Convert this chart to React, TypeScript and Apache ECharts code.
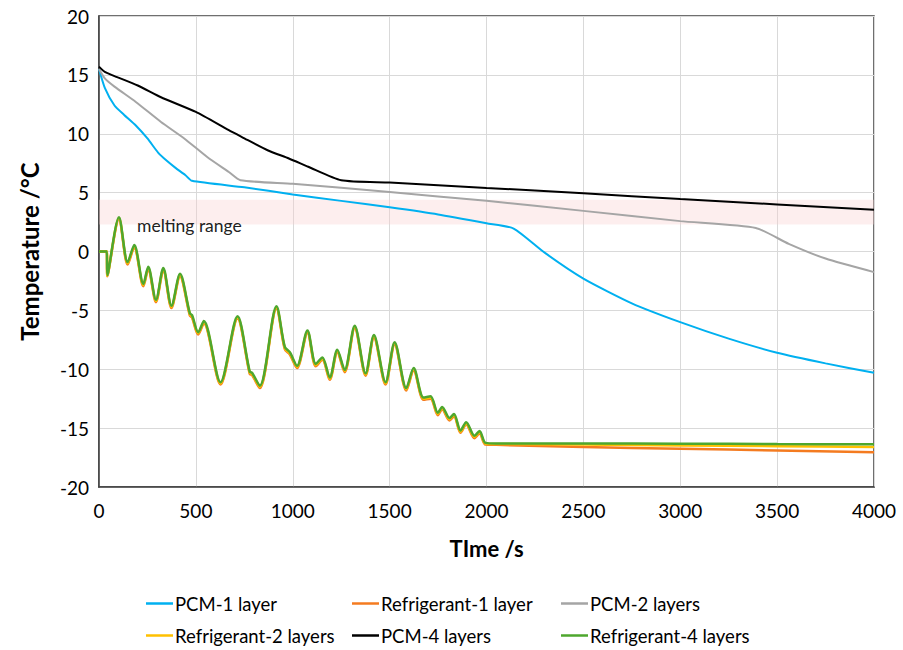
import React, { useEffect, useRef } from "react";
import * as echarts from "echarts";

// PCM-1 layer
const pcm1Time = [0, 30, 80, 130, 190, 250, 305, 350, 395, 445, 480, 750, 1000, 1250, 1500, 1750, 2000, 2140, 2300, 2500, 2750, 3000, 3250, 3500, 3750, 4000];
const pcm1Temp = [15.5, 13.9, 12.4, 11.6, 10.7, 9.6, 8.4, 7.7, 7.1, 6.5, 6.0, 5.45, 4.85, 4.3, 3.75, 3.15, 2.4, 1.95, -0.1, -2.3, -4.4, -6.0, -7.4, -8.6, -9.5, -10.3];

// PCM-2 layers
const pcm2Time = [0, 30, 80, 190, 320, 440, 560, 670, 730, 1000, 1500, 2000, 2500, 3000, 3390, 3560, 3750, 4000];
const pcm2Temp = [15.5, 14.7, 14.0, 12.7, 11.0, 9.6, 8.0, 6.75, 6.05, 5.75, 5.05, 4.3, 3.45, 2.58, 2.0, 0.65, -0.6, -1.75];

// PCM-4 layers
const pcm4Time = [0, 30, 80, 200, 320, 500, 670, 740, 870, 980, 1080, 1250, 1500, 2000, 2500, 3000, 3500, 4000];
const pcm4Temp = [15.7, 15.25, 14.9, 14.1, 13.1, 11.85, 10.3, 9.7, 8.6, 7.9, 7.2, 6.05, 5.85, 5.4, 4.95, 4.45, 4.0, 3.55];

// Refrigerant series (shared sampling times)
const refTime = [0, 40, 43, 103, 148, 182, 229, 254, 294, 332, 374, 418, 469, 480, 512, 541, 627, 715, 778, 790, 830, 916, 959, 985, 1022, 1076, 1119, 1153, 1191, 1230, 1268, 1320, 1376, 1419, 1479, 1526, 1586, 1624, 1675, 1711, 1749, 1771, 1809, 1832, 1866, 1895, 1938, 1964, 1995, 2050, 2500, 3000, 3500, 4000];
const ref1Temp = [0, 0, -2.1, 2.75, -1.1, 0.35, -2.95, -1.5, -4.3, -1.6, -4.8, -2.1, -5.45, -5.6, -7.05, -6.1, -11.3, -5.7, -10.4, -10.5, -11.6, -4.85, -8.3, -8.75, -9.9, -6.9, -9.75, -9.2, -10.9, -8.55, -10.25, -6.5, -10.55, -7.3, -11.3, -7.9, -11.8, -10.1, -12.6, -12.5, -13.9, -13.4, -14.35, -14.0, -15.4, -14.7, -15.85, -15.45, -16.4, -16.42, -16.6, -16.75, -16.9, -17.05];
const ref2Temp = [0, 0, -2.05, 2.85, -1.0, 0.45, -2.85, -1.4, -4.2, -1.5, -4.7, -2.0, -5.35, -5.5, -6.95, -6.0, -11.2, -5.6, -10.3, -10.4, -11.5, -4.75, -8.2, -8.65, -9.8, -6.8, -9.65, -9.1, -10.8, -8.45, -10.15, -6.4, -10.45, -7.2, -11.2, -7.8, -11.7, -10.0, -12.5, -12.4, -13.8, -13.3, -14.25, -13.9, -15.3, -14.6, -15.75, -15.35, -16.33, -16.35, -16.4, -16.47, -16.53, -16.6];
const ref4Temp = [0, 0, -2.0, 2.9, -0.9, 0.55, -2.75, -1.3, -4.1, -1.4, -4.6, -1.9, -5.25, -5.4, -6.85, -5.9, -11.1, -5.5, -10.2, -10.3, -11.4, -4.65, -8.1, -8.55, -9.7, -6.7, -9.55, -9.0, -10.7, -8.35, -10.05, -6.3, -10.35, -7.1, -11.1, -7.7, -11.6, -9.9, -12.4, -12.3, -13.7, -13.2, -14.15, -13.8, -15.2, -14.5, -15.65, -15.25, -16.25, -16.3, -16.3, -16.32, -16.35, -16.37];

// Melting range band
const meltingRange = [2.3, 4.4];

const xTicks = { min: 0, max: 4000, interval: 500 };
const yTicks = { min: -20, max: 20, interval: 5 };

// Legend layout: [series name, column left, row top]
const legendItems: [string, number, number][] = [
  ["PCM-1 layer", 146, 594],
  ["Refrigerant-1 layer", 352, 594],
  ["PCM-2 layers", 561, 594],
  ["Refrigerant-2 layers", 146, 626],
  ["PCM-4 layers", 352, 626],
  ["Refrigerant-4 layers", 561, 626],
];

const pair = (t: number[], v: number[]) => t.map((x, i) => [x, v[i]]);

const FONT = "Lato, 'Open Sans', sans-serif";

export default function App() {
  const ref = useRef<HTMLDivElement>(null);
  useEffect(() => {
    if (!ref.current) return;
    const chart = echarts.init(ref.current, undefined, { renderer: "svg" });
    const lineSeries = (name: string, data: number[][], color: string, width: number, smooth: number, extra: any = {}) => ({
      name,
      type: "line",
      data,
      showSymbol: false,
      symbol: "none",
      smooth,
      lineStyle: { color, width },
      itemStyle: { color },
      ...extra,
    });
    chart.setOption({
      animation: false,
      textStyle: { fontFamily: FONT },
      grid: {
        left: 99,
        right: 29,
        top: 16,
        bottom: 163,
        show: true,
        borderColor: "#404040",
        borderWidth: 1.5,
      },
      xAxis: {
        type: "value",
        min: xTicks.min,
        max: xTicks.max,
        interval: xTicks.interval,
        name: "TIme /s",
        nameLocation: "middle",
        nameGap: 50,
        nameTextStyle: { fontSize: 22, fontWeight: "bold", color: "#000", fontFamily: FONT },
        axisLine: { show: true, onZero: false, lineStyle: { color: "#404040", width: 1.5 } },
        axisTick: { show: false },
        axisLabel: { fontSize: 19, color: "#000", margin: 14, fontFamily: FONT, formatter: (v: number) => String(v) },
        splitLine: { show: true, lineStyle: { color: "#d9d9d9", width: 1 } },
      },
      yAxis: {
        type: "value",
        min: yTicks.min,
        max: yTicks.max,
        interval: yTicks.interval,
        name: "Temperature /°C",
        nameLocation: "middle",
        nameGap: 58,
        nameTextStyle: { fontSize: 24, fontWeight: "bold", color: "#000", fontFamily: FONT },
        axisLine: { show: true, onZero: false, lineStyle: { color: "#404040", width: 1.5 } },
        axisTick: { show: false },
        axisLabel: { fontSize: 19, color: "#000", margin: 10, fontFamily: FONT, formatter: (v: number) => String(v) },
        splitLine: { show: true, lineStyle: { color: "#d9d9d9", width: 1 } },
      },
      legend: legendItems.map(([name, left, top]) => ({
        data: [name],
        left,
        top,
        padding: 0,
        orient: "horizontal",
        icon: "rect",
        itemWidth: 27,
        itemHeight: 2.5,
        itemGap: 0,
        textStyle: { fontSize: 18.5, color: "#000", fontFamily: FONT, padding: [0, 0, 0, -3] },
      })),
      graphic: [
        {
          type: "text",
          left: 137,
          top: 216,
          z: 10,
          style: { text: "melting range", font: `17.5px ${FONT}`, fill: "#222" },
        },
      ],
      series: [
        lineSeries("PCM-1 layer", pair(pcm1Time, pcm1Temp), "#00B0F0", 2, 0.2, {
          markArea: {
            silent: true,
            itemStyle: { color: "rgba(250, 205, 205, 0.35)" },
            data: [[{ yAxis: meltingRange[0] }, { yAxis: meltingRange[1] }]],
          },
        }),
        lineSeries("Refrigerant-1 layer", pair(refTime, ref1Temp), "#F47B20", 2.5, 0.3),
        lineSeries("PCM-2 layers", pair(pcm2Time, pcm2Temp), "#A5A5A5", 2, 0.2),
        lineSeries("Refrigerant-2 layers", pair(refTime, ref2Temp), "#FFC000", 2.5, 0.3),
        lineSeries("PCM-4 layers", pair(pcm4Time, pcm4Temp), "#000000", 2, 0.2),
        lineSeries("Refrigerant-4 layers", pair(refTime, ref4Temp), "#4EA72E", 2.5, 0.3),
      ],
    });
    return () => chart.dispose();
  }, []);
  return <div ref={ref} style={{ width: 903, height: 650, position: "absolute", left: 0, top: 0 }} />;
}
